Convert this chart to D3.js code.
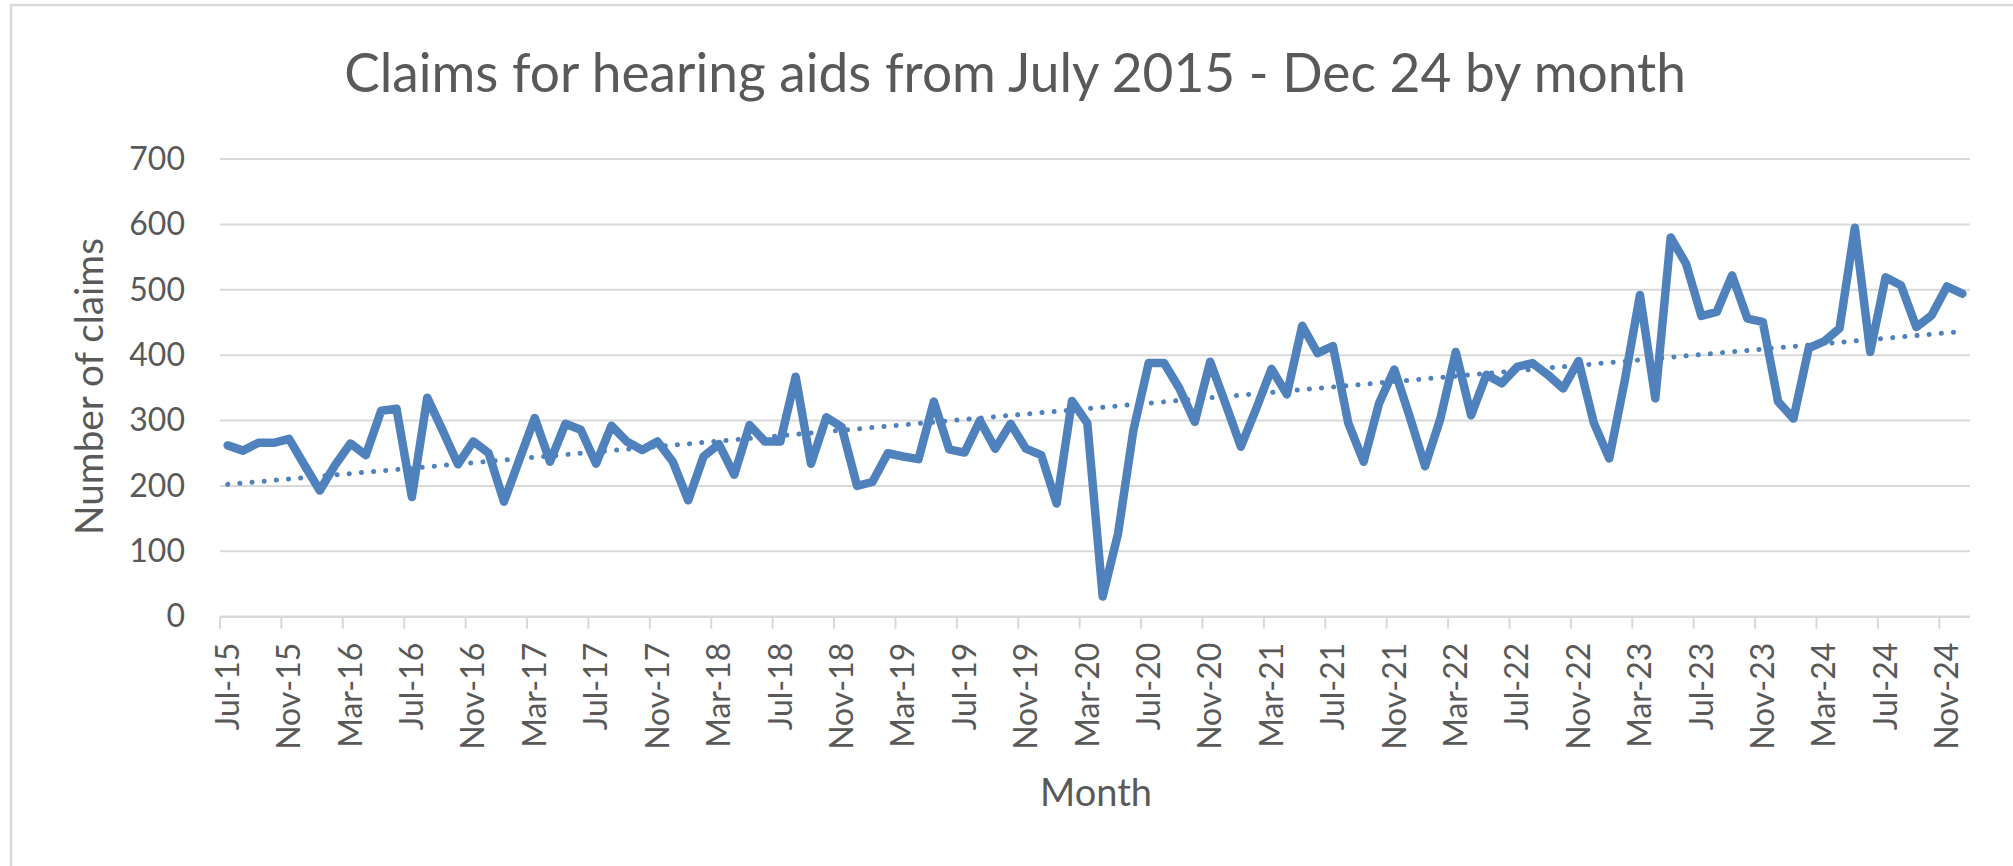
<!DOCTYPE html>
<html>
<head>
<meta charset="utf-8">
<script src="https://cdn.jsdelivr.net/npm/d3@7"></script>
<style>
  html, body { margin: 0; padding: 0; background: #ffffff; }
  svg { display: block; }
  text { font-family: Lato, "Open Sans", sans-serif; fill: #595959; }
</style>
</head>
<body>
<svg id="chart" width="2013" height="866"></svg>
<script>
// ---------- data ----------
const titleText = "Claims for hearing aids from July 2015 - Dec 24 by month";
const xAxisTitle = "Month";
const yAxisTitle = "Number of claims";

// monthly categories Jul-2015 .. Dec-2024
const months = d3.timeMonth.range(new Date(2015, 6, 1), new Date(2025, 0, 1));

const claims = [
  262, 254, 266, 266, 272, 232, 193, 232, 265, 247, 315, 318,   // Jul-15 .. Jun-16
  183, 335, 285, 233, 268, 250, 176, 240, 304, 237, 295, 286,   // Jul-16 .. Jun-17
  234, 292, 268, 255, 268, 237, 178, 245, 264, 217, 293, 268,   // Jul-17 .. Jun-18
  268, 367, 234, 305, 290, 200, 206, 250, 245, 241, 329, 256,   // Jul-18 .. Jun-19
  251, 300, 257, 295, 257, 247, 173, 330, 296,  31, 127, 285,   // Jul-19 .. Jun-20
  388, 388, 349, 298, 390, 326, 260, 318, 379, 340, 445, 403,   // Jul-20 .. Jun-21
  414, 296, 237, 326, 378, 306, 230, 303, 405, 308, 370, 357,   // Jul-21 .. Jun-22
  382, 388, 370, 349, 391, 296, 242, 360, 492, 334, 580, 540,   // Jul-22 .. Jun-23
  460, 466, 522, 456, 451, 329, 303, 411, 421, 441, 595, 405,   // Jul-23 .. Jun-24
  519, 507, 443, 461, 505, 494                                  // Jul-24 .. Dec-24
];

const yTicks = [0, 100, 200, 300, 400, 500, 600, 700];
const labelEvery = 4;

// ---------- layout ----------
const svg = d3.select("#chart");
const W = 2013, H = 866;
const plot = { left: 220, right: 1970, top: 159, bottom: 616.7 };
const lineColor = "#4F81BD";
const gridColor = "#d9d9d9";

svg.append("rect").attr("width", W).attr("height", H).attr("fill", "#fff");
// chart area border
svg.append("rect")
  .attr("x", 11).attr("y", 5).attr("width", W + 50).attr("height", H + 50)
  .attr("fill", "none").attr("stroke", gridColor).attr("stroke-width", 2.5);

const idx = d3.range(claims.length);
const x = d3.scaleBand().domain(idx).range([plot.left, plot.right]).padding(0);
const xc = i => x(i) + x.bandwidth() / 2;
const y = d3.scaleLinear().domain([0, 700]).range([plot.bottom, plot.top]);

// gridlines
svg.append("g")
  .selectAll("line").data(yTicks.filter(d => d > 0)).join("line")
  .attr("x1", plot.left).attr("x2", plot.right)
  .attr("y1", d => y(d)).attr("y2", d => y(d))
  .attr("stroke", gridColor).attr("stroke-width", 2);

// y axis labels
const yAxis = d3.axisLeft(y).tickValues(yTicks).tickSize(0).tickPadding(0);
const gy = svg.append("g").attr("transform", `translate(${plot.left - 35},0)`).call(yAxis);
gy.select(".domain").remove();
gy.selectAll("text")
  .attr("font-size", 32).attr("fill", "#595959")
  .style("font-family", "Lato, 'Open Sans', sans-serif");

// x axis
const fmt = d3.timeFormat("%b-%y");
const tickIdx = idx.filter(i => i % labelEvery === 0);
const xAxis = d3.axisBottom(x).tickValues(tickIdx).tickSize(12).tickPadding(0)
  .tickFormat(i => fmt(months[i]));
const gx = svg.append("g").attr("transform", `translate(0,${plot.bottom})`).call(xAxis);
gx.select(".domain")
  .attr("d", `M${plot.left},0H${plot.right}`)
  .attr("stroke", gridColor).attr("stroke-width", 2.5);
gx.selectAll(".tick line")
  .attr("x1", -x.bandwidth() / 2).attr("x2", -x.bandwidth() / 2)
  .attr("stroke", gridColor).attr("stroke-width", 2);
gx.selectAll(".tick text")
  .attr("font-size", 32).attr("fill", "#595959")
  .style("font-family", "Lato, 'Open Sans', sans-serif")
  .attr("text-anchor", "end")
  .attr("transform", "translate(0,26) rotate(-90)")
  .attr("x", 0).attr("y", 0).attr("dy", "0.35em");

// trendline (least squares, as the source chart's linear trendline)
const n = claims.length;
const mx = d3.mean(idx), my = d3.mean(claims);
const slope = d3.sum(idx, i => (i - mx) * (claims[i] - my)) / d3.sum(idx, i => (i - mx) ** 2);
const icpt = my - slope * mx;
svg.append("line")
  .attr("x1", xc(0)).attr("y1", y(icpt))
  .attr("x2", xc(n - 1)).attr("y2", y(icpt + slope * (n - 1)))
  .attr("stroke", lineColor).attr("stroke-width", 5)
  .attr("stroke-linecap", "round").attr("stroke-dasharray", "0.1 12.1");

// data line
const line = d3.line().x(i => xc(i)).y(i => y(claims[i]));
svg.append("path").datum(idx)
  .attr("d", line).attr("fill", "none")
  .attr("stroke", lineColor).attr("stroke-width", 8.5)
  .attr("stroke-linejoin", "round").attr("stroke-linecap", "round");

// titles, sized to the reference text widths
function fit(sel, target) {
  const w = sel.node().getComputedTextLength();
  const fs = parseFloat(sel.attr("font-size"));
  sel.attr("font-size", fs * target / w);
}
const t = svg.append("text").attr("x", 1015).attr("y", 92)
  .attr("text-anchor", "middle").attr("font-size", 50).text(titleText);
fit(t, 1342);

const xt = svg.append("text").attr("x", 1096).attr("y", 806)
  .attr("text-anchor", "middle").attr("font-size", 36).text(xAxisTitle);
fit(xt, 112);

const yt = svg.append("text").attr("transform", "translate(103,386.5) rotate(-90)")
  .attr("text-anchor", "middle").attr("font-size", 36).text(yAxisTitle);
fit(yt, 297);
</script>
</body>
</html>
